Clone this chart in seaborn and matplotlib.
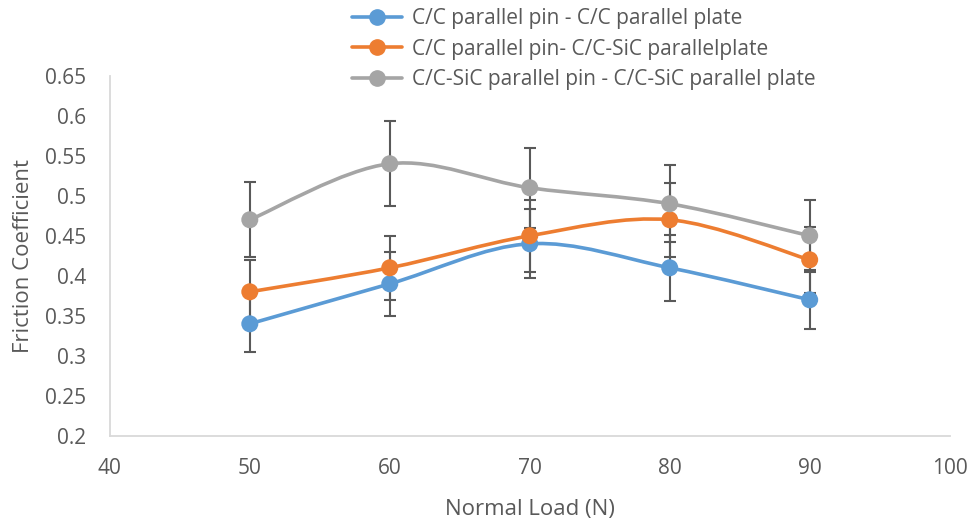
#!/usr/bin/env python3

import numpy as np
import pandas as pd
import seaborn as sns
import matplotlib.pyplot as plt
from matplotlib.path import Path
from matplotlib.patches import PathPatch
from matplotlib.lines import Line2D
from matplotlib.ticker import FuncFormatter

# Values
loads = [50, 60, 70, 80, 90]
series_names = [
    "C/C parallel pin - C/C parallel plate",
    "C/C parallel pin- C/C-SiC parallelplate",
    "C/C-SiC parallel pin - C/C-SiC parallel plate",
]
cc_cc = [0.34, 0.39, 0.44, 0.41, 0.37]
cc_ccsic = [0.38, 0.41, 0.45, 0.47, 0.42]
ccsic_ccsic = [0.47, 0.54, 0.51, 0.49, 0.45]
cc_cc_err = [0.035, 0.04, 0.043, 0.041, 0.037]
cc_ccsic_err = [0.04, 0.04, 0.045, 0.046, 0.041]
ccsic_ccsic_err = [0.047, 0.053, 0.05, 0.048, 0.045]

colors = ["#5B9BD5", "#ED7D31", "#A5A5A5"]
TEXT = "#595959"


def smooth_path(xs, ys):
    # Excel style smoothed line: cubic bezier through every point
    pts = np.column_stack([xs, ys]).astype(float)
    n = len(pts)
    verts = [pts[0]]
    codes = [Path.MOVETO]
    for i in range(n - 1):
        p0 = pts[max(i - 1, 0)]
        p1 = pts[i]
        p2 = pts[i + 1]
        p3 = pts[min(i + 2, n - 1)]
        c1 = p1 + (p2 - p0) / 6
        c2 = p2 - (p3 - p1) / 6
        verts += [c1, c2, p2]
        codes += [Path.CURVE4] * 3
    return Path(verts, codes)


def main():
    sns.set_theme(style="white")
    plt.rcParams["font.family"] = ["Open Sans", "DejaVu Sans"]

    values = [cc_cc, cc_ccsic, ccsic_ccsic]
    errors = [cc_cc_err, cc_ccsic_err, ccsic_ccsic_err]
    df = pd.DataFrame({
        "Load": loads * 3,
        "Friction": cc_cc + cc_ccsic + ccsic_ccsic,
        "Pair": [n for n in series_names for _ in loads],
    })

    fig = plt.figure(figsize=(9.72, 5.22), dpi=100)
    ax = fig.add_axes([0.113, 0.165, 0.864, 0.69])

    for vals, errs in zip(values, errors):
        ax.errorbar(loads, vals, yerr=errs, fmt="none", ecolor="#595959",
                    elinewidth=1.5, capsize=4.5, capthick=1.5, zorder=2)
    for vals, col in zip(values, colors):
        patch = PathPatch(smooth_path(loads, vals), facecolor="none",
                          edgecolor=col, lw=2.6, zorder=3,
                          capstyle="round")
        ax.add_patch(patch)
    sns.scatterplot(data=df, x="Load", y="Friction", hue="Pair",
                    palette=colors, s=150, edgecolor="none", legend=False,
                    ax=ax, zorder=4)

    ax.set_xlim(40, 100)
    ax.set_ylim(0.2, 0.65)
    ax.set_xticks(np.arange(40, 101, 10))
    ax.set_yticks(np.arange(0.2, 0.651, 0.05))
    ax.yaxis.set_major_formatter(FuncFormatter(lambda v, _: f"{v:.2f}".rstrip("0")))
    ax.tick_params(axis="both", length=0, labelsize=15, labelcolor=TEXT)
    ax.tick_params(axis="x", pad=16)
    ax.tick_params(axis="y", pad=17)
    for side in ["top", "right"]:
        ax.spines[side].set_visible(False)
    for side in ["bottom", "left"]:
        ax.spines[side].set_color("#D9D9D9")
        ax.spines[side].set_linewidth(1.3)
    ax.set_xlabel("Normal Load (N)", fontsize=16, color=TEXT, labelpad=14)
    ax.set_ylabel("Friction Coefficient", fontsize=16, color=TEXT, labelpad=8)

    handles = [Line2D([], [], color=c, lw=2.6, marker="o", markersize=11)
               for c in colors]
    fig.legend(handles, series_names, loc="upper left",
               bbox_to_anchor=(0.343, 1.02), frameon=False, fontsize=15,
               labelcolor=TEXT, handlelength=2.4, handletextpad=0.45,
               labelspacing=0.45)

    fig.savefig("out.png", dpi=100)


if __name__ == "__main__":
    main()
